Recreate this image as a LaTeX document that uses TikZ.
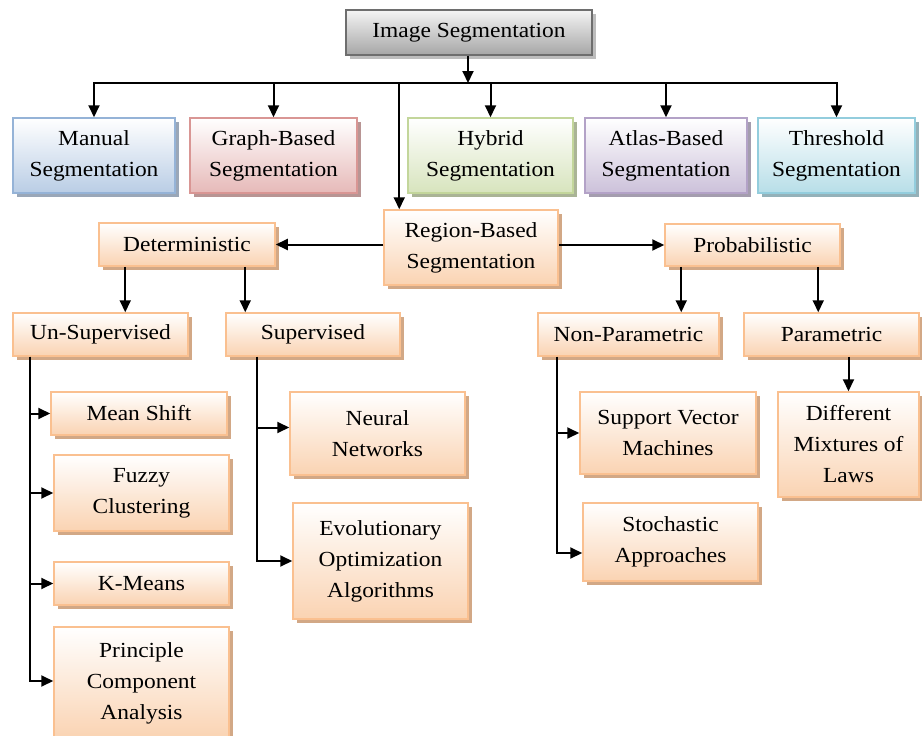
\documentclass[tikz,border=0pt]{standalone}
\usepackage{fontspec}
\setmainfont[FakeStretch=1.09]{Liberation Serif}
\usetikzlibrary{arrows.meta,shadows}

\definecolor{grayTop}{HTML}{F4F4F4}
\definecolor{grayBot}{HTML}{A6A6A6}
\definecolor{grayLine}{HTML}{6E6E6E}
\definecolor{grayShd}{HTML}{BDBDBD}
\definecolor{blueBot}{HTML}{B9CDE5}
\definecolor{blueLine}{HTML}{95B3D7}
\definecolor{blueShd}{HTML}{9AA7B8}
\definecolor{redBot}{HTML}{E6B9B8}
\definecolor{redLine}{HTML}{D99694}
\definecolor{redShd}{HTML}{B89594}
\definecolor{greenBot}{HTML}{D7E4BD}
\definecolor{greenLine}{HTML}{C3D69B}
\definecolor{greenShd}{HTML}{AAB496}
\definecolor{purpleBot}{HTML}{CCC1DA}
\definecolor{purpleLine}{HTML}{B3A2C7}
\definecolor{purpleShd}{HTML}{A49DAE}
\definecolor{cyanBot}{HTML}{B7DEE8}
\definecolor{cyanLine}{HTML}{93CDDD}
\definecolor{cyanShd}{HTML}{94B1B9}
\definecolor{orBot}{HTML}{FAD3B2}
\definecolor{orLine}{HTML}{FAC090}
\definecolor{orShd}{HTML}{D2A886}

\tikzset{
  tile/.style n args={3}{
    draw=#1, line width=1.5pt, top color=white, bottom color=#2,
    general shadow={shadow xshift=4pt, shadow yshift=-4pt, fill=#3},
    rectangle, inner sep=0pt, align=center,
    font=\fontsize{21.5}{31}\selectfont},
  sz/.style 2 args={minimum width=#1pt, minimum height=#2pt},
  graybox/.style={tile={grayLine}{grayBot}{grayShd}, top color=grayTop},
  bluebox/.style={tile={blueLine}{blueBot}{blueShd}},
  redbox/.style={tile={redLine}{redBot}{redShd}},
  greenbox/.style={tile={greenLine}{greenBot}{greenShd}},
  purplebox/.style={tile={purpleLine}{purpleBot}{purpleShd}},
  cyanbox/.style={tile={cyanLine}{cyanBot}{cyanShd}},
  orbox/.style={tile={orLine}{orBot}{orShd}},
  arr/.style={draw=black, line width=2pt, -{Triangle[length=12pt,width=11pt]}},
  wire/.style={draw=black, line width=2pt}
}

\begin{document}
\begin{tikzpicture}[x=1pt,y=-1pt]
\clip (0,0) rectangle (922,736);
\useasboundingbox (0,0) rectangle (922,736);

% root
\node[graybox, sz={246}{45}] (img) at (469,32.5) {Image Segmentation};

% first level
\node[bluebox,   sz={162}{75}] (manual) at (94,155.5)    {Manual\\Segmentation};
\node[redbox,    sz={167}{75}] (graph)  at (273.5,155.5) {Graph-Based\\Segmentation};
\node[greenbox,  sz={165}{75}] (hybrid) at (490.5,155.5) {Hybrid\\Segmentation};
\node[purplebox, sz={162}{75}] (atlas)  at (666,155.5)   {Atlas-Based\\Segmentation};
\node[cyanbox,   sz={157}{75}] (thresh) at (836.5,155.5) {Threshold\\Segmentation};

% region-based branch
\node[orbox, sz={174}{75}] (region) at (471,247.5) {Region-Based\\Segmentation};
\node[orbox, sz={176}{43}] (determ) at (187,244.5) {Deterministic};
\node[orbox, sz={175}{42}] (prob)   at (752.5,245) {Probabilistic};

\node[orbox, sz={175}{43}] (unsup)  at (100.5,334.5) {Un-Supervised};
\node[orbox, sz={174}{43}] (sup)    at (313,334.5)   {Supervised};
\node[orbox, sz={181}{43}] (nonpar) at (628.5,334.5) {Non-Parametric};
\node[orbox, sz={175}{43}] (par)    at (831.5,334.5) {Parametric};

\node[orbox, sz={176}{43}]  (mean)   at (139,413.5)  {Mean Shift};
\node[orbox, sz={175}{76}]  (fuzzy)  at (141.5,493)  {Fuzzy\\Clustering};
\node[orbox, sz={175}{43}]  (kmeans) at (141.5,583.5){K-Means};
\node[orbox, sz={175}{112}] (pca)    at (141.5,683)  {Principle\\Component\\Analysis};

\node[orbox, sz={175}{83}]  (neural) at (377.5,433.5) {Neural\\Networks};
\node[orbox, sz={175}{116}] (evol)   at (380.5,561)   {Evolutionary\\Optimization\\Algorithms};

\node[orbox, sz={176}{82}]  (svm)    at (668,433)     {Support Vector\\Machines};
\node[orbox, sz={175}{78}]  (stoch)  at (670.5,542)   {Stochastic\\Approaches};
\node[orbox, sz={141}{105}] (diff)   at (848.5,444.5) {Different\\Mixtures of\\Laws};

% bus under the root
\coordinate (bus) at (468,83);
\draw[arr] (img.south -| bus) -- (bus);
\draw[arr] (bus) -| (manual.north);
\draw[arr] (bus) -| (graph.north);
\draw[arr] (bus) -| (hybrid.north);
\draw[arr] (bus) -| (atlas.north);
\draw[arr] (bus) -| (thresh.north);
\draw[arr] (bus) -| ([xshift=16pt]region.north west);

% region-based split
\draw[arr] (region.west |- determ.east) -- (determ.east);
\draw[arr] (region.east |- prob.west) -- (prob.west);

\draw[arr] ([xshift=27pt]determ.south west) -- ([xshift=27pt]determ.south west |- unsup.north);
\draw[arr] ([xshift=147pt]determ.south west) -- ([xshift=147pt]determ.south west |- sup.north);
\draw[arr] ([xshift=17pt]prob.south west) -- ([xshift=17pt]prob.south west |- nonpar.north);
\draw[arr] ([xshift=154pt]prob.south west) -- ([xshift=154pt]prob.south west |- par.north);

% leaves
\draw[arr] ([xshift=18pt]unsup.south west) |- (mean.west);
\draw[arr] ([xshift=18pt]unsup.south west) |- (fuzzy.west);
\draw[arr] ([xshift=18pt]unsup.south west) |- (kmeans.west);
\draw[arr] ([xshift=18pt]unsup.south west) |- ([yshift=2pt]pca.west);

\draw[arr] ([xshift=32pt]sup.south west) |- ([yshift=6pt]neural.west);
\draw[arr] ([xshift=32pt]sup.south west) |- (evol.west);

\draw[arr] ([xshift=20pt]nonpar.south west) |- (svm.west);
\draw[arr] ([xshift=20pt]nonpar.south west) |- ([yshift=-11pt]stoch.west);

\draw[arr] (par.south -| diff.north) -- (diff.north);
\end{tikzpicture}
\end{document}
